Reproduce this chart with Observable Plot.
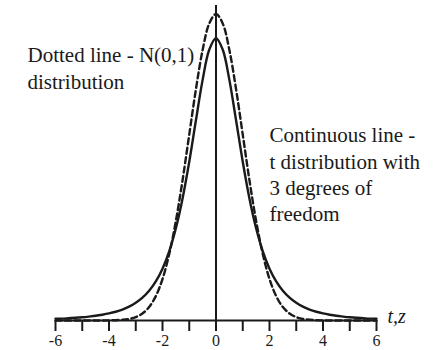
<!DOCTYPE html>
<html><head><meta charset="utf-8">
<script src="https://cdn.jsdelivr.net/npm/d3@7"></script>
<script src="https://cdn.jsdelivr.net/npm/@observablehq/plot@0.6"></script>
</head><body style="margin:0">
<div id="chart"></div>
<script>
// values
const xValues = [-6, -5.75, -5.5, -5.25, -5, -4.75, -4.5, -4.25, -4, -3.75, -3.5, -3.25, -3, -2.75, -2.5, -2.25, -2, -1.75, -1.5, -1.25, -1, -0.75, -0.5, -0.25, 0,
                 0.25, 0.5, 0.75, 1, 1.25, 1.5, 1.75, 2, 2.25, 2.5, 2.75, 3, 3.25, 3.5, 3.75, 4, 4.25, 4.5, 4.75, 5, 5.25, 5.5, 5.75, 6];
const tDensity = [0.0022, 0.0025, 0.0030, 0.0035, 0.0042, 0.0051, 0.0061, 0.0075, 0.0092, 0.0114, 0.0142, 0.0180, 0.0230, 0.0297, 0.0387, 0.0509, 0.0675, 0.0900, 0.1200, 0.1589, 0.2067, 0.2606, 0.3132, 0.3527, 0.3676,
                  0.3527, 0.3132, 0.2606, 0.2067, 0.1589, 0.1200, 0.0900, 0.0675, 0.0509, 0.0387, 0.0297, 0.0230, 0.0180, 0.0142, 0.0114, 0.0092, 0.0075, 0.0061, 0.0051, 0.0042, 0.0035, 0.0030, 0.0025, 0.0022];
const normalDensity = [0, 0, 0, 0, 0, 0, 0, 0, 0.0001, 0.0004, 0.0009, 0.0020, 0.0044, 0.0091, 0.0175, 0.0317, 0.0540, 0.0863, 0.1295, 0.1826, 0.2420, 0.3011, 0.3521, 0.3867, 0.3989,
                       0.3867, 0.3521, 0.3011, 0.2420, 0.1826, 0.1295, 0.0863, 0.0540, 0.0317, 0.0175, 0.0091, 0.0044, 0.0020, 0.0009, 0.0004, 0.0001, 0, 0, 0, 0, 0, 0, 0, 0];
const tickValues = [-6, -5, -4, -3, -2, -1, 0, 1, 2, 3, 4, 5, 6];
const tickLabels = ["-6", "", "-4", "", "-2", "", "0", "", "2", "", "4", "", "6"];
const normalLines = ["Dotted line - N(0,1)", "distribution"];
const tLines = ["Continuous line -", "t distribution with", "3 degrees of", "freedom"];
const axisLabel = "t,z";

const tData = xValues.map((x, i) => ({x, y: tDensity[i]}));
const nData = xValues.map((x, i) => ({x, y: normalDensity[i]}));

const serif = "Liberation Serif";
const ink = "#1a1a1a";

const normalOffsets = [56, 83];
const tOffsets = [136, 163, 189, 215];

const textStyle = {frameAnchor: "top-left", textAnchor: "start", lineAnchor: "bottom", fontSize: 21, fontFamily: serif, fill: ink};

const chart = Plot.plot({
  width: 435,
  height: 350,
  marginLeft: 55,
  marginRight: 59,
  marginTop: 5,
  marginBottom: 30,
  x: {domain: [-6, 6]},
  y: {domain: [0, 0.41], axis: null},
  marks: [
    Plot.axisX({
      ticks: tickValues,
      tickFormat: (d) => tickLabels[tickValues.indexOf(d)],
      tickSize: 11,
      tickPadding: 3,
      fontSize: 16,
      fontFamily: serif,
      stroke: ink,
      strokeWidth: 2,
      strokeOpacity: 1,
      fill: ink,
      label: null
    }),
    Plot.ruleY([0], {stroke: ink, strokeWidth: 2.2}),
    Plot.ruleX([0], {stroke: ink, strokeWidth: 2}),
    Plot.line(nData, {x: "x", y: "y", stroke: ink, strokeWidth: 2.4, strokeDasharray: "6,3.5", curve: "catmull-rom"}),
    Plot.line(tData, {x: "x", y: "y", stroke: ink, strokeWidth: 2.4, curve: "catmull-rom"}),
    ...normalLines.map((s, i) => Plot.text([s], {...textStyle, dx: -28, dy: normalOffsets[i]})),
    ...tLines.map((s, i) => Plot.text([s], {...textStyle, dx: 214, dy: tOffsets[i]})),
    Plot.text([axisLabel], {frameAnchor: "bottom-right", textAnchor: "start", lineAnchor: "bottom", dx: 11, dy: 2, fontSize: 20, fontStyle: "italic", fontFamily: serif, fill: ink})
  ]
});

document.getElementById("chart").appendChild(chart);
</script>
</body></html>
